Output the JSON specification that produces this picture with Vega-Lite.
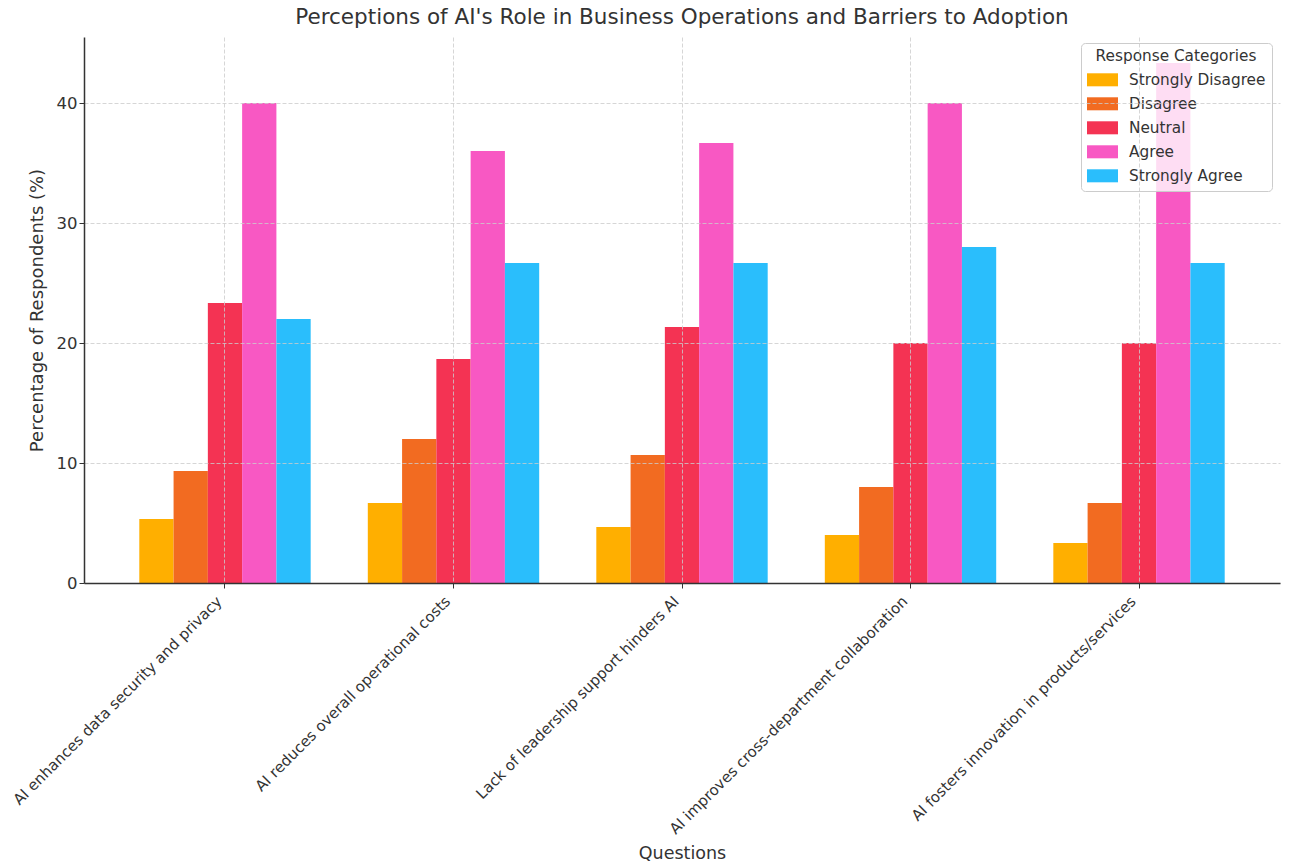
{
  "$schema": "https://vega.github.io/schema/vega-lite/v6.json",
  "width": 1196,
  "height": 546,
  "autosize": {"type": "none"},
  "padding": {"left": 84, "top": 37, "right": 10, "bottom": 278},
  "background": "white",
  "config": {
    "font": "DejaVu Sans",
    "view": {"stroke": null},
    "axis": {"labelColor": "#333333", "titleColor": "#333333", "domainColor": "#333333", "tickColor": "#333333", "titleFontWeight": "normal"}
  },
  "title": {
    "text": "Perceptions of AI's Role in Business Operations and Barriers to Adoption",
    "fontSize": 21.5,
    "fontWeight": "normal",
    "color": "#333333",
    "anchor": "middle",
    "offset": 9
  },
  "data": {
    "values": [
      {"question": "AI enhances data security and privacy", "response": "Strongly Disagree", "pct": 5.33},
      {"question": "AI enhances data security and privacy", "response": "Disagree", "pct": 9.33},
      {"question": "AI enhances data security and privacy", "response": "Neutral", "pct": 23.33},
      {"question": "AI enhances data security and privacy", "response": "Agree", "pct": 40.0},
      {"question": "AI enhances data security and privacy", "response": "Strongly Agree", "pct": 22.0},
      {"question": "AI reduces overall operational costs", "response": "Strongly Disagree", "pct": 6.67},
      {"question": "AI reduces overall operational costs", "response": "Disagree", "pct": 12.0},
      {"question": "AI reduces overall operational costs", "response": "Neutral", "pct": 18.67},
      {"question": "AI reduces overall operational costs", "response": "Agree", "pct": 36.0},
      {"question": "AI reduces overall operational costs", "response": "Strongly Agree", "pct": 26.67},
      {"question": "Lack of leadership support hinders AI", "response": "Strongly Disagree", "pct": 4.67},
      {"question": "Lack of leadership support hinders AI", "response": "Disagree", "pct": 10.67},
      {"question": "Lack of leadership support hinders AI", "response": "Neutral", "pct": 21.33},
      {"question": "Lack of leadership support hinders AI", "response": "Agree", "pct": 36.67},
      {"question": "Lack of leadership support hinders AI", "response": "Strongly Agree", "pct": 26.67},
      {"question": "AI improves cross-department collaboration", "response": "Strongly Disagree", "pct": 4.0},
      {"question": "AI improves cross-department collaboration", "response": "Disagree", "pct": 8.0},
      {"question": "AI improves cross-department collaboration", "response": "Neutral", "pct": 20.0},
      {"question": "AI improves cross-department collaboration", "response": "Agree", "pct": 40.0},
      {"question": "AI improves cross-department collaboration", "response": "Strongly Agree", "pct": 28.0},
      {"question": "AI fosters innovation in products/services", "response": "Strongly Disagree", "pct": 3.33},
      {"question": "AI fosters innovation in products/services", "response": "Disagree", "pct": 6.67},
      {"question": "AI fosters innovation in products/services", "response": "Neutral", "pct": 20.0},
      {"question": "AI fosters innovation in products/services", "response": "Agree", "pct": 43.33},
      {"question": "AI fosters innovation in products/services", "response": "Strongly Agree", "pct": 26.67}
    ]
  },
  "mark": {"type": "bar"},
  "encoding": {
    "x": {
      "field": "question",
      "type": "nominal",
      "sort": null,
      "scale": {"paddingInner": 0.25, "paddingOuter": 0.242},
      "axis": {
        "title": "Questions",
        "titleFontSize": 17.5,
        "titleY": 261,
        "titleBaseline": "top",
        "labelAngle": -45,
        "labelAlign": "right",
        "labelBaseline": "bottom",
        "labelFontSize": 15,
        "labelPadding": 16,
        "labelLimit": 400,
        "tickSize": 5,
        "domainWidth": 1.5,
        "grid": true,
        "gridDash": [4, 2],
        "gridColor": "#cccccc",
        "gridWidth": 0.8,
        "bandPosition": 0.5,
        "zindex": 1
      }
    },
    "xOffset": {
      "field": "response",
      "type": "nominal",
      "sort": ["Strongly Disagree", "Disagree", "Neutral", "Agree", "Strongly Agree"],
      "scale": {"paddingInner": 0, "paddingOuter": 0}
    },
    "y": {
      "field": "pct",
      "type": "quantitative",
      "scale": {"domain": [0, 45.5], "nice": false},
      "axis": {
        "title": "Percentage of Respondents (%)",
        "titleFontSize": 18,
        "titlePadding": 10,
        "labelFontSize": 16.5,
        "values": [0, 10, 20, 30, 40],
        "tickSize": 5,
        "domainWidth": 1.5,
        "gridDash": [4, 2],
        "gridColor": "#cccccc",
        "gridWidth": 0.8,
        "zindex": 1
      }
    },
    "color": {
      "field": "response",
      "type": "nominal",
      "scale": {
        "domain": ["Strongly Disagree", "Disagree", "Neutral", "Agree", "Strongly Agree"],
        "range": ["#FFAF00", "#F26B21", "#F43353", "#F858C3", "#2ABEFC"]
      },
      "legend": {
        "title": "Response Categories",
        "orient": "none",
        "legendX": 997,
        "legendY": 6,
        "titleFontSize": 15.3,
        "titleFontWeight": "normal",
        "titleColor": "#333333",
        "titleAnchor": "middle",
        "titlePadding": 0,
        "labelFontSize": 15.3,
        "labelColor": "#333333",
        "symbolType": "M-1,-0.42H1V0.42H-1Z",
        "symbolSize": 961,
        "symbolStrokeWidth": 0,
        "symbolOpacity": 1,
        "fillColor": "rgba(255,255,255,0.8)",
        "strokeColor": "#cccccc",
        "cornerRadius": 4,
        "padding": 6,
        "rowPadding": -1,
        "labelOffset": 11
      }
    }
  }
}
